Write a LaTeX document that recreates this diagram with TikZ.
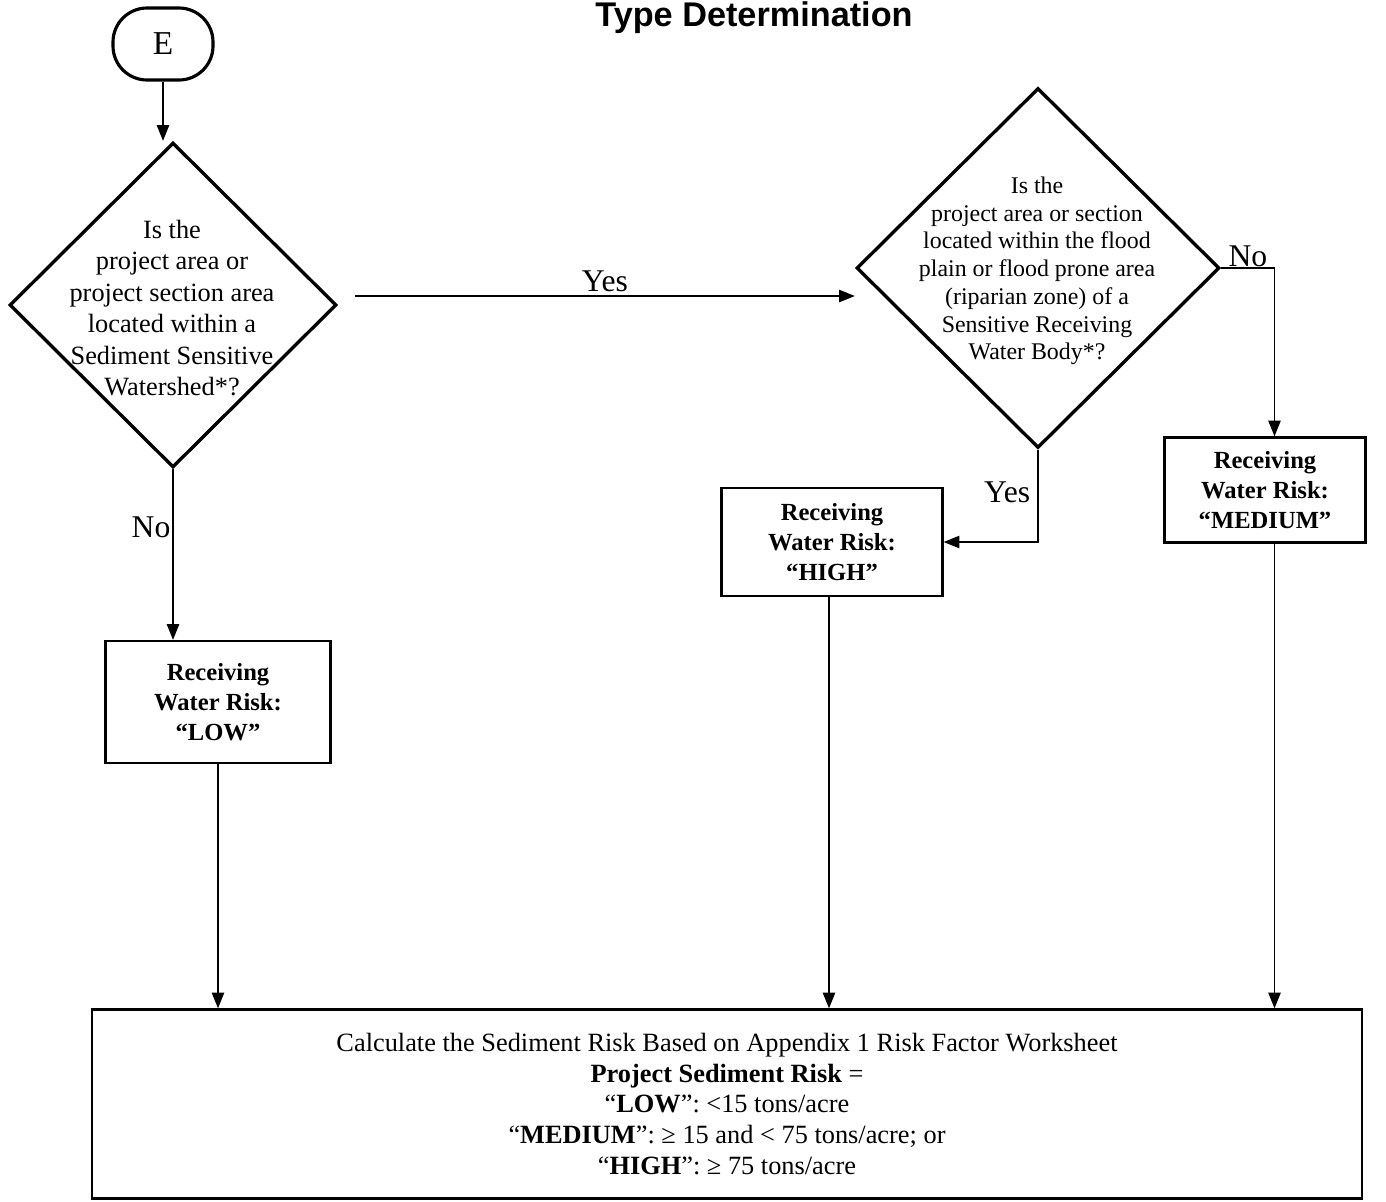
\documentclass[tikz,border=0pt]{standalone}
\usepackage{fontspec}
\setmainfont{Liberation Serif}
\newfontfamily\titlefont{Liberation Sans}
\usetikzlibrary{shapes.geometric,arrows.meta}

\begin{document}
\begin{tikzpicture}[x=0.02cm,y=-0.02cm,
		>={Triangle[length=9pt,width=7pt]},
		line/.style={->,line width=1pt},
		start node/.style={draw,line width=1.8pt,rounded corners=0.68cm,
			minimum width=2cm,minimum height=1.44cm,font=\fontsize{19}{22}\selectfont},
		decision/.style={draw,diamond,line width=1.9pt,inner sep=0pt},
		question/.style={align=center,inner sep=0pt},
		risk box/.style={draw,line width=1.3pt,align=center,
			font=\fontsize{14}{17}\selectfont\bfseries},
		answer/.style={font=\fontsize{18}{20}\selectfont,inner sep=2pt}]
	
	\useasboundingbox (0,0) rectangle (1386,1201);
	
	\node[font=\titlefont\bfseries\fontsize{19.5}{23}\selectfont,anchor=base] (title) at (754,26) {Type Determination};
	
	\node[start node] (E) at (163,44) {E};
	
	\node[decision,minimum width=6.54cm,minimum height=6.5cm] (q1) at (173,305) {};
	\node[question,font=\fontsize{15}{17.9}\selectfont] (q1text) at (172,308)
	{Is the\\project area or\\project section area\\located within a\\Sediment Sensitive\\Watershed*?};
	
	\node[decision,minimum width=7.26cm,minimum height=7.2cm] (q2) at (1038,268) {};
	\node[question,font=\fontsize{13.6}{15.8}\selectfont] (q2text) at (1037,271)
	{Is the\\project area or section\\located within the flood\\plain or flood prone area\\(riparian zone) of a\\Sensitive Receiving\\Water Body*?};
	
	\node[risk box,minimum width=4.5cm,minimum height=2.44cm] (low) at (218,702) {Receiving\\Water Risk:\\“LOW”};
	\node[risk box,minimum width=4.42cm,minimum height=2.16cm] (high) at (832,542) {Receiving\\Water Risk:\\“HIGH”};
	\node[risk box,minimum width=4.02cm,minimum height=2.1cm] (med) at (1265,490) {Receiving\\Water Risk:\\“MEDIUM”};
	
	\node[draw,line width=1.3pt,minimum width=25.4cm,minimum height=3.78cm,align=center,
	font=\fontsize{15}{17.6}\selectfont] (calc) at (727,1104)
	{Calculate the Sediment Risk Based on Appendix 1 Risk Factor Worksheet\\
		\textbf{Project Sediment Risk} =\\
		“\textbf{LOW}”: <15 tons/acre\\
		“\textbf{MEDIUM}”: ≥ 15 and < 75 tons/acre; or\\
		“\textbf{HIGH}”: ≥ 75 tons/acre};
	
	% connectors
	\draw[line] (E.south) -- (E.south |- q1.north);
	\draw[line] ([xshift=0.34cm,yshift=0.18cm]q1.east) coordinate (yesstart)
		-- node[answer,above] {Yes} (yesstart -| q2.west);
	\draw[line] (q1.south) -- node[answer,pos=0.34,left=-1pt] {No} (q1.south |- low.north);
	\draw[line] (q2.south) |- node[answer,pos=0.23,left=2pt] {Yes} (high.east);
	\draw[line] (q2.east) -| node[answer,pos=0.25,above=-2pt] {No} ([xshift=0.19cm]med.north);
	
	\draw[line] (low.south) -- (low.south |- calc.north);
	\draw[line] ([xshift=-0.06cm]high.south) -- ([xshift=-0.06cm]high.south |- calc.north);
	\draw[line] ([xshift=0.19cm]med.south) -- ([xshift=0.19cm]med.south |- calc.north);
\end{tikzpicture}
\end{document}
